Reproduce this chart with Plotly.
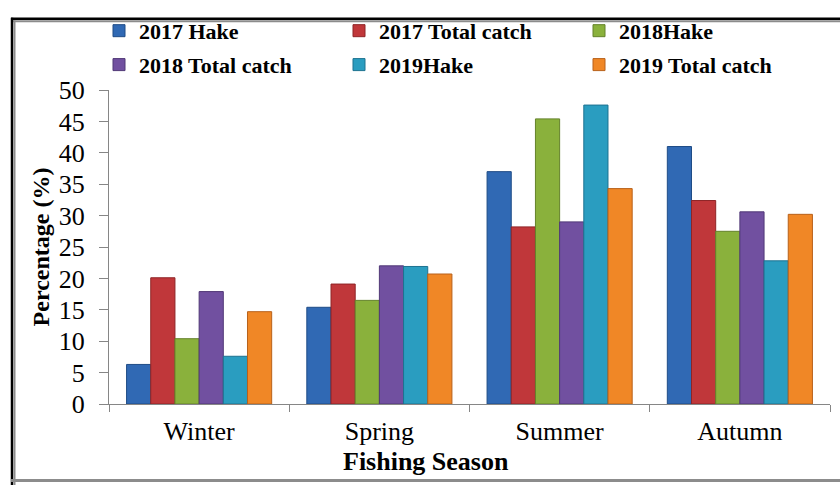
import plotly.graph_objects as go

seasons = ["Winter", "Spring", "Summer", "Autumn"]

hake_2017 = [6.3, 15.4, 37.0, 41.0]
total_2017 = [20.1, 19.1, 28.2, 32.4]
hake_2018 = [10.4, 16.5, 45.4, 27.5]
total_2018 = [17.9, 22.0, 29.0, 30.6]
hake_2019 = [7.6, 21.9, 47.6, 22.8]
total_2019 = [14.7, 20.7, 34.3, 30.2]

series_names = ["2017 Hake", "2017 Total catch", "2018Hake",
                "2018 Total catch", "2019Hake", "2019 Total catch"]
series_values = [hake_2017, total_2017, hake_2018, total_2018, hake_2019, total_2019]
fill_colors = ["#3069b4", "#c0373a", "#8ab13c", "#7150a0", "#2a9dc0", "#f08726"]
edge_colors = ["#1f4c86", "#8e2426", "#64822a", "#513877", "#1d7290", "#b8611a"]

W, H = 840, 485
ML, MR, MT, MB = 109, 10, 80, 81
PW, PH = W - ML - MR, H - MT - MB

SERIF = "Liberation Serif, Times New Roman, serif"


def px_x(x):
    return (x - ML) / PW


def px_y(y):
    return (H - MB - y) / PH


fig = go.Figure()
for i, (name, vals) in enumerate(zip(series_names, series_values)):
    fig.add_trace(go.Bar(
        x=seasons, y=vals, name=name,
        marker=dict(color=fill_colors[i], line=dict(color=edge_colors[i], width=1)),
        legend="legend" if i < 3 else "legend2",
    ))

legend_common = dict(
    orientation="h", xanchor="left", yanchor="middle",
    font=dict(family=SERIF, size=22, color="black", weight="bold"),
    entrywidth=195, itemwidth=30, bgcolor="rgba(0,0,0,0)",
    tracegroupgap=0,
)

# outer frame: dark line with a grey inner shadow
frame = [
    dict(x0=11, x1=W + 5, y0=6.5, y1=6.5, color="black", w=2.5),
    dict(x0=13, x1=W + 5, y0=9, y1=9, color="#8c8c8c", w=2),
    dict(x0=12, x1=12, y0=5.5, y1=H + 5, color="black", w=2.5),
    dict(x0=14.5, x1=14.5, y0=8, y1=H + 5, color="#8c8c8c", w=2),
    dict(x0=11, x1=W + 5, y0=483, y1=483, color="#8c8c8c", w=3),
]
shapes = [
    dict(type="line", xref="paper", yref="paper",
         x0=px_x(f["x0"]), x1=px_x(f["x1"]), y0=px_y(f["y0"]), y1=px_y(f["y1"]),
         line=dict(color=f["color"], width=f["w"]), layer="above")
    for f in frame
]

# x-axis title is centred on the whole chart area rather than the plot area
x_title = dict(
    text="<b>Fishing Season</b>", xref="paper", yref="paper",
    x=px_x(426), y=px_y(463), xanchor="center", yanchor="middle",
    showarrow=False, font=dict(family=SERIF, size=26, color="black"),
)

fig.update_layout(
    width=W, height=H,
    margin=dict(l=ML, r=MR, t=MT, b=MB),
    paper_bgcolor="white", plot_bgcolor="white",
    barmode="group", bargap=0.195, bargroupgap=0,
    font=dict(family=SERIF, color="black"),
    showlegend=True,
    legend=dict(**legend_common, x=px_x(99), y=px_y(19)),
    legend2=dict(**legend_common, x=px_x(99), y=px_y(54)),
    shapes=shapes,
    annotations=[x_title],
    xaxis=dict(
        showline=True, linecolor="#868686", linewidth=1,
        ticks="outside", tickson="boundaries", ticklen=7, tickcolor="#868686",
        tickfont=dict(family=SERIF, size=26, color="black"),
        ticklabelstandoff=4,
        showgrid=False,
    ),
    yaxis=dict(
        range=[0, 50], dtick=5, showline=True, linecolor="#868686", linewidth=1,
        ticks="outside", ticklen=9, tickcolor="#868686",
        tickfont=dict(family=SERIF, size=26, color="black"),
        ticklabelstandoff=9,
        showgrid=False, zeroline=False,
        title=dict(text="Percentage (%)", standoff=2,
                   font=dict(family=SERIF, size=24, color="black", weight="bold")),
    ),
)

fig.write_html("out.html")
